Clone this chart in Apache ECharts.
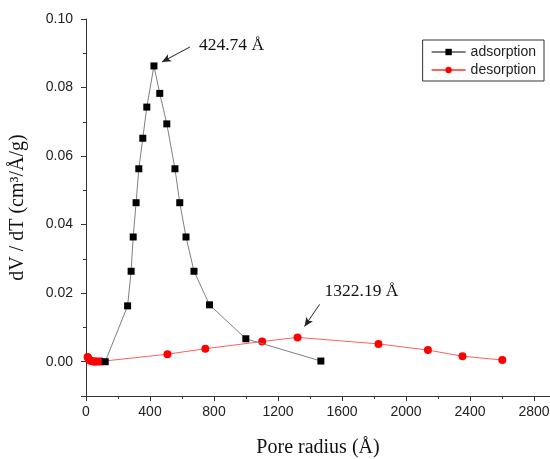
<!DOCTYPE html>
<html>
<head>
<meta charset="utf-8">
<script src="https://cdn.jsdelivr.net/npm/echarts@6/dist/echarts.min.js"></script>
<style>
  html, body { margin: 0; padding: 0; background: #fff; }
  #chart { width: 550px; height: 459px; }
</style>
</head>
<body>
<div id="chart"></div>
<script>
// pore radius (Å) and dV/dT for each branch
const adsRadius = [120, 260, 282, 295, 313, 330, 355, 380, 424.74, 461, 505, 556, 586, 625, 675, 772, 999, 1468];
const adsValue = [0.0000, 0.0163, 0.0264, 0.0364, 0.0464, 0.0563, 0.0652, 0.0743, 0.0863, 0.0783, 0.0694, 0.0563, 0.0464, 0.0364, 0.0264, 0.0166, 0.0067, 0.0002];

const desRadius = [10, 15, 20, 28, 35, 45, 55, 65, 80, 95, 509, 746, 1101, 1322.19, 1828, 2137, 2353, 2602];
const desValue = [0.0014, 0.0010, 0.0006, 0.0003, 0.0002, 0.0001, 0.0001, 0.0001, 0.0001, 0.0001, 0.0022, 0.0038, 0.0059, 0.0071, 0.0052, 0.0034, 0.0016, 0.0005];

const xTicks = [0, 400, 800, 1200, 1600, 2000, 2400, 2800];
const peakLabels = ['424.74 Å', '1322.19 Å'];

const pairs = (xs, ys) => xs.map((x, i) => [x, ys[i]]);
const serif = '"Liberation Serif", "Times New Roman", serif';
const sans = '"Liberation Sans", Arial, sans-serif';

const chart = echarts.init(document.getElementById('chart'), null, { renderer: 'canvas' });

chart.setOption({
  animation: false,
  backgroundColor: '#fff',
  grid: { left: 86, right: 0, top: 19, bottom: 63, containLabel: false, outerBoundsMode: 'none' },
  legend: {
    orient: 'vertical',
    right: 6,
    top: 40,
    borderColor: '#333',
    borderWidth: 1,
    borderRadius: 0,
    padding: [5, 8, 4, 8],
    itemWidth: 34,
    itemHeight: 8,
    itemGap: 4,
    textStyle: { fontFamily: sans, fontSize: 14, color: '#222' },
    data: ['adsorption', 'desorption']
  },
  xAxis: {
    type: 'value',
    min: xTicks[0],
    max: 2900,
    interval: xTicks[1] - xTicks[0],
    name: 'Pore radius (Å)',
    nameLocation: 'middle',
    nameGap: 42,
    nameTextStyle: { fontFamily: serif, fontSize: 20, color: '#111' },
    axisLine: { onZero: false, lineStyle: { color: '#333', width: 1 } },
    axisTick: { length: 5, lineStyle: { color: '#333' } },
    minorTick: { show: true, splitNumber: 2, length: 3, lineStyle: { color: '#333' } },
    splitLine: { show: false },
    axisLabel: {
      fontFamily: sans, fontSize: 14, color: '#222', margin: 9,
      showMaxLabel: false,
      formatter: v => (xTicks.indexOf(v) >= 0 ? String(v) : '')
    }
  },
  yAxis: {
    type: 'value',
    min: -0.01,
    max: 0.10,
    splitNumber: 5,
    name: 'dV / dT (cm³/Å/g)',
    nameLocation: 'middle',
    nameGap: 58,
    nameRotate: 90,
    nameTextStyle: { fontFamily: serif, fontSize: 20, color: '#111' },
    axisLine: { show: true, onZero: false, lineStyle: { color: '#333', width: 1 } },
    axisTick: { show: true, length: 5, lineStyle: { color: '#333' } },
    minorTick: { show: true, splitNumber: 2, length: 3, lineStyle: { color: '#333' } },
    splitLine: { show: false },
    axisLabel: {
      fontFamily: sans, fontSize: 14, color: '#222', margin: 13,
      showMinLabel: false,
      formatter: v => v.toFixed(2)
    }
  },
  series: [
    {
      name: 'adsorption',
      type: 'line',
      data: pairs(adsRadius, adsValue),
      symbol: 'rect',
      symbolSize: 7,
      itemStyle: { color: '#000' },
      lineStyle: { color: '#808080', width: 1 },
      z: 3
    },
    {
      name: 'desorption',
      type: 'line',
      data: pairs(desRadius, desValue),
      symbol: 'circle',
      symbolSize: 8,
      itemStyle: { color: '#ff0000' },
      lineStyle: { color: '#ff6060', width: 1 },
      z: 2
    }
  ]
});

// annotate the two peaks with arrows, placed relative to the peak points
function peakOf(xs, ys) {
  let k = 0;
  ys.forEach((v, i) => { if (v > ys[k]) k = i; });
  return [xs[k], ys[k]];
}
const pA = chart.convertToPixel({ gridIndex: 0 }, peakOf(adsRadius, adsValue));
const pD = chart.convertToPixel({ gridIndex: 0 }, peakOf(desRadius, desValue));

const notes = [
  { p: pA, text: peakLabels[0], tx: 45, ty: -21, a0: [36, -19], a1: [8, -4] },
  { p: pD, text: peakLabels[1], tx: 27, ty: -46, a0: [22, -33], a1: [7, -11] }
];

chart.setOption({
  series: [{
    name: 'adsorption',
    markLine: {
      silent: true,
      symbol: ['none', 'arrow'],
      symbolSize: [6, 9],
      label: { show: false },
      lineStyle: { color: '#222', width: 1, type: 'solid' },
      data: notes.map(n => [
        { x: n.p[0] + n.a0[0], y: n.p[1] + n.a0[1] },
        { x: n.p[0] + n.a1[0], y: n.p[1] + n.a1[1] }
      ])
    }
  }],
  graphic: notes.map(n => ({
    type: 'text',
    x: n.p[0] + n.tx,
    y: n.p[1] + n.ty,
    style: {
      text: n.text,
      font: '17.5px ' + serif,
      fill: '#111',
      verticalAlign: 'middle'
    }
  }))
});
</script>
</body>
</html>
